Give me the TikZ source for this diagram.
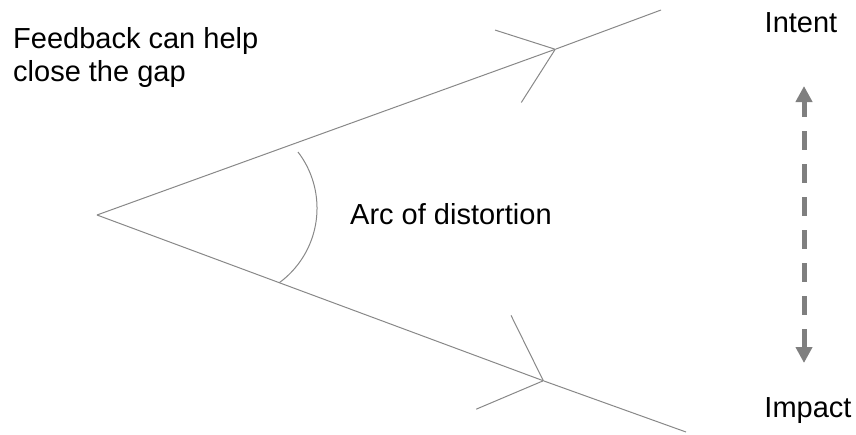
\documentclass[tikz,border=0pt]{standalone}
\usepackage{fontspec}
\setmainfont{Liberation Sans}
\usetikzlibrary{arrows.meta}
\definecolor{lineagrigia}{HTML}{888888}
\definecolor{frecciagrigia}{HTML}{7F7F7F}

\begin{document}
\begin{tikzpicture}[x=1pt, y=1pt,
    testo/.style={inner sep=0pt, font=\fontsize{29}{33}\selectfont, text=black},
    raggio/.style={draw=lineagrigia, line width=1pt}]
    \useasboundingbox (0,0) rectangle (856,-434);

    % Raggi dal vertice
    \coordinate (vertice) at (97,-215);
    \coordinate (puntaIntent) at (556,-49);
    \coordinate (fineIntent) at (661,-10);
    \coordinate (puntaImpact) at (544,-381);
    \coordinate (fineImpact) at (686,-432);
    \draw[raggio, -{Straight Barb[length=50pt, width=77pt]}] (vertice) -- (puntaIntent);
    \draw[raggio] (puntaIntent) -- (fineIntent);
    \draw[raggio, -{Straight Barb[length=53pt, width=100pt]}] (vertice) -- (puntaImpact);
    \draw[raggio] (puntaImpact) -- (fineImpact);

    % Arco di distorsione
    \draw[raggio] (298,-152) arc[start angle=37.4, end angle=-53.9, radius=92.5pt];

    % Testi
    \node[testo, anchor=base west, align=left] (feedback) at (13,-81) {Feedback can help\\close the gap};
    \node[testo, anchor=base west] (arco) at (350,-224) {Arc of distortion};
    \node[testo, anchor=base] (intent) at (801,-32) {Intent};
    \node[testo, anchor=base] (impact) at (808,-417) {Impact};

    % Freccia tratteggiata
    \coordinate (cima) at (804,-86);
    \coordinate (fondo) at (804,-363);
    \draw[frecciagrigia, line width=5pt, dash pattern=on 19pt off 14pt, dash phase=3pt,
        {Triangle[length=16pt, width=16pt]}-{Triangle[length=16pt, width=16pt]}] (cima) -- (fondo);
\end{tikzpicture}
\end{document}
